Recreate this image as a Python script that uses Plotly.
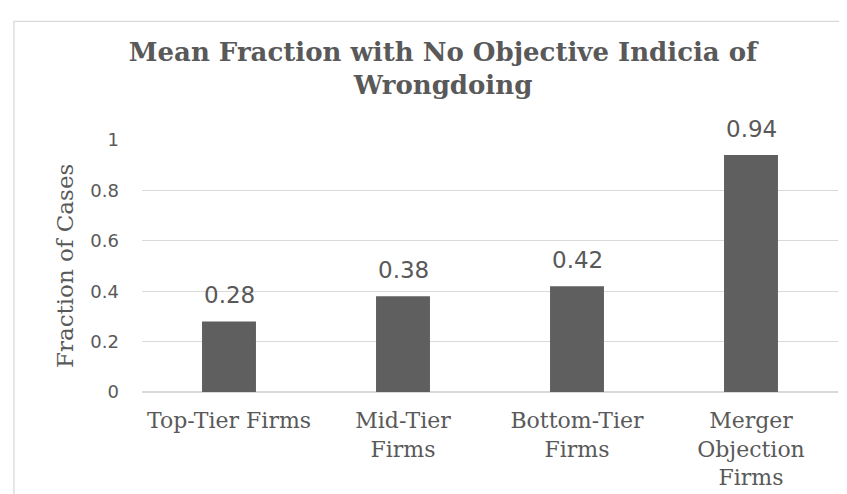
import plotly.graph_objects as go

# data
categorias = ['Top-Tier Firms', 'Mid-Tier Firms', 'Bottom-Tier Firms', 'Merger Objection Firms']
rotulos = ['Top-Tier Firms', 'Mid-Tier<br>Firms', 'Bottom-Tier<br>Firms', 'Merger<br>Objection<br>Firms']
fracao = [0.28, 0.38, 0.42, 0.94]
ticks_y = [0, 0.2, 0.4, 0.6, 0.8, 1]

cinza_texto = '#595959'
cinza_grade = '#d9d9d9'
serif = 'DejaVu Serif'

fig = go.Figure()
fig.add_trace(
    go.Bar(
        x = categorias, y = fracao,
        marker = dict(color = '#5f5f5f', line = dict(width = 0)),
        width = 0.31,
        hoverinfo = 'skip'
    )
)

# value labels above the bars
for cat, val in zip(categorias, fracao):
    fig.add_annotation(
        x = cat, y = val, text = f'{val:.2f}',
        showarrow = False, yanchor = 'bottom', yshift = 11,
        font = dict(family = 'DejaVu Sans', size = 23, color = cinza_texto)
    )

# y axis title
fig.add_annotation(
    xref = 'paper', yref = 'paper', x = -0.1106, y = 0.5,
    text = 'Fraction of Cases', textangle = -90, showarrow = False,
    xanchor = 'center', yanchor = 'middle',
    font = dict(family = serif, size = 23, color = cinza_texto)
)

# chart border
fig.add_shape(
    type = 'rect', xref = 'paper', yref = 'paper',
    x0 = -0.184, x1 = 1.2, y0 = -0.6, y1 = 1.4706,
    line = dict(color = cinza_grade, width = 1.3), layer = 'below'
)

fig.update_layout(
    width = 847, height = 494,
    margin = dict(l = 134, r = 17, t = 132, b = 107),
    paper_bgcolor = 'white', plot_bgcolor = 'white',
    showlegend = False,
    title = dict(
        text = 'Mean Fraction with No Objective Indicia of<br>Wrongdoing',
        x = 0.5136, xanchor = 'center', y = 0.8935, yanchor = 'top',
        font = dict(family = serif, size = 26, color = cinza_texto, weight = 'bold')
    ),
    xaxis = dict(
        tickvals = categorias, ticktext = rotulos,
        tickfont = dict(family = serif, size = 22, color = cinza_texto),
        showgrid = False, showline = False, ticks = '',
        ticklabelstandoff = 13
    ),
    yaxis = dict(
        range = [0, 1], tickvals = ticks_y,
        tickfont = dict(family = 'DejaVu Sans', size = 18, color = cinza_texto),
        showgrid = True, gridcolor = cinza_grade, gridwidth = 1,
        zeroline = True, zerolinecolor = cinza_grade, zerolinewidth = 2,
        ticks = '', ticklabelstandoff = 22
    )
)

fig.write_html('out.html')
